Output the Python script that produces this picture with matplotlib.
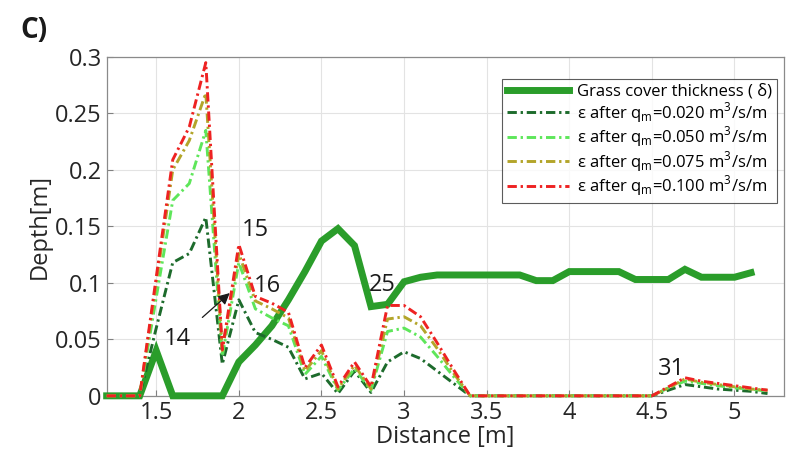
import matplotlib
matplotlib.use("Agg")
import matplotlib.pyplot as plt
from matplotlib.ticker import FuncFormatter

plt.rcParams["font.family"] = ["Open Sans", "DejaVu Sans"]
plt.rcParams["mathtext.fontset"] = "custom"
plt.rcParams["mathtext.rm"] = "Open Sans"

# grass cover thickness, x = 1.2 .. 5.1 (step 0.1)
x_grass = [1.2, 1.3, 1.4, 1.5, 1.6, 1.7, 1.8, 1.9, 2.0, 2.1, 2.2, 2.3, 2.4, 2.5,
           2.6, 2.7, 2.8, 2.9, 3.0, 3.1, 3.2, 3.3, 3.4, 3.5, 3.6, 3.7, 3.8, 3.9,
           4.0, 4.1, 4.2, 4.3, 4.4, 4.5, 4.6, 4.7, 4.8, 4.9, 5.0, 5.1]
grass = [0, 0, 0, 0.04, 0, 0, 0, 0, 0.03, 0.045, 0.062, 0.085, 0.11, 0.137,
         0.148, 0.133, 0.079, 0.081, 0.101, 0.105, 0.107, 0.107, 0.107, 0.107,
         0.107, 0.107, 0.102, 0.102, 0.11, 0.11, 0.11, 0.11, 0.103, 0.103,
         0.103, 0.112, 0.105, 0.105, 0.105, 0.109]

# erosion depth, x = 1.2 .. 5.2 (step 0.1)
x_eros = x_grass + [5.2]
eps_020 = [0, 0, 0, 0.06, 0.118, 0.126, 0.158, 0.028, 0.085, 0.056, 0.05, 0.043,
           0.015, 0.02, 0.002, 0.022, 0.003, 0.03, 0.039, 0.033, 0.022, 0.011, 0,
           0, 0, 0, 0, 0, 0, 0, 0, 0, 0, 0, 0.005, 0.01, 0.008, 0.006, 0.005,
           0.004, 0.002]
eps_050 = [0, 0, 0, 0.087, 0.173, 0.188, 0.235, 0.035, 0.118, 0.077, 0.069, 0.062,
           0.019, 0.035, 0.005, 0.024, 0.005, 0.057, 0.06, 0.052, 0.035, 0.017, 0,
           0, 0, 0, 0, 0, 0, 0, 0, 0, 0, 0, 0.007, 0.013, 0.011, 0.009, 0.007,
           0.006, 0.004]
eps_075 = [0, 0, 0, 0.1, 0.2, 0.226, 0.268, 0.04, 0.126, 0.084, 0.077, 0.069,
           0.022, 0.04, 0.006, 0.027, 0.006, 0.068, 0.07, 0.062, 0.042, 0.02, 0,
           0, 0, 0, 0, 0, 0, 0, 0, 0, 0, 0, 0.007, 0.015, 0.012, 0.01, 0.008,
           0.006, 0.005]
eps_100 = [0, 0, 0, 0.105, 0.209, 0.238, 0.295, 0.041, 0.134, 0.088, 0.082, 0.074,
           0.025, 0.045, 0.008, 0.03, 0.008, 0.08, 0.08, 0.07, 0.047, 0.023, 0,
           0, 0, 0, 0, 0, 0, 0, 0, 0, 0, 0, 0.008, 0.016, 0.013, 0.011, 0.009,
           0.007, 0.005]

series = [
    (eps_020, "0.020", "#1d6b2c"),
    (eps_050, "0.050", "#5ee65a"),
    (eps_075, "0.075", "#b3a52a"),
    (eps_100, "0.100", "#ee2222"),
]

fig = plt.figure(figsize=(7.96, 4.69), dpi=100)
ax = fig.add_axes([0.134, 0.156, 0.851, 0.7225])

ax.plot(x_grass, grass, color="#2a9d2a", lw=5, solid_joinstyle="miter",
        label="Grass cover thickness ( δ)", clip_on=False, zorder=3)
for vals, q, col in series:
    ax.plot(x_eros, vals, color=col, lw=2.1, dashes=(3.2, 1.3, 0.8, 1.3),
            label=r"ε after q$_\mathrm{m}$=" + q + r" m$^\mathrm{3}$/s/m",
            clip_on=False, zorder=4)

ax.set_xlim(1.2, 5.3)
ax.set_ylim(0, 0.3)
ax.set_xticks([1.5, 2, 2.5, 3, 3.5, 4, 4.5, 5])
ax.set_yticks([0, 0.05, 0.1, 0.15, 0.2, 0.25, 0.3])
fmt = FuncFormatter(lambda v, p: "%g" % round(v, 3))
ax.xaxis.set_major_formatter(fmt)
ax.yaxis.set_major_formatter(fmt)
ax.tick_params(direction="in", length=4, labelsize=17, colors="#808080",
               labelcolor="#262626", top=False, right=False)
ax.grid(True, color="#e3e3e3", lw=0.8)
ax.set_axisbelow(True)
for sp in ax.spines.values():
    sp.set_color("#8a8a8a")
    sp.set_linewidth(0.9)

ax.set_xlabel("Distance [m]", fontsize=17, color="#262626", labelpad=0)
ax.set_ylabel("Depth[m]", fontsize=17, color="#262626", labelpad=2)

# point labels
lab_kw = dict(fontsize=17, color="#1a1a1a", ha="center", va="center", zorder=6)
ax.text(2.1, 0.147, "15", **lab_kw)
ax.text(2.17, 0.097, "16", **lab_kw)
ax.text(2.87, 0.098, "25", **lab_kw)
ax.text(4.62, 0.024, "31", **lab_kw)
ax.annotate("14", xy=(1.945, 0.091), xytext=(1.63, 0.05), fontsize=17,
            color="#1a1a1a", ha="center", va="center", zorder=6,
            arrowprops=dict(arrowstyle="-|>", color="#1a1a1a", lw=0.9,
                            mutation_scale=17, shrinkA=8, shrinkB=0))

leg = ax.legend(loc="upper right", bbox_to_anchor=(0.995, 0.945), fontsize=12,
                frameon=True, fancybox=False, edgecolor="#333333",
                handlelength=3.7, borderpad=0.3, labelspacing=0.0,
                handletextpad=0.5, borderaxespad=0.2)
leg.get_frame().set_linewidth(0.8)

fig.text(0.026, 0.935, "C)", fontsize=20, fontweight="bold", color="#1a1a1a",
         ha="left", va="center")

fig.savefig("out.png", dpi=100)
